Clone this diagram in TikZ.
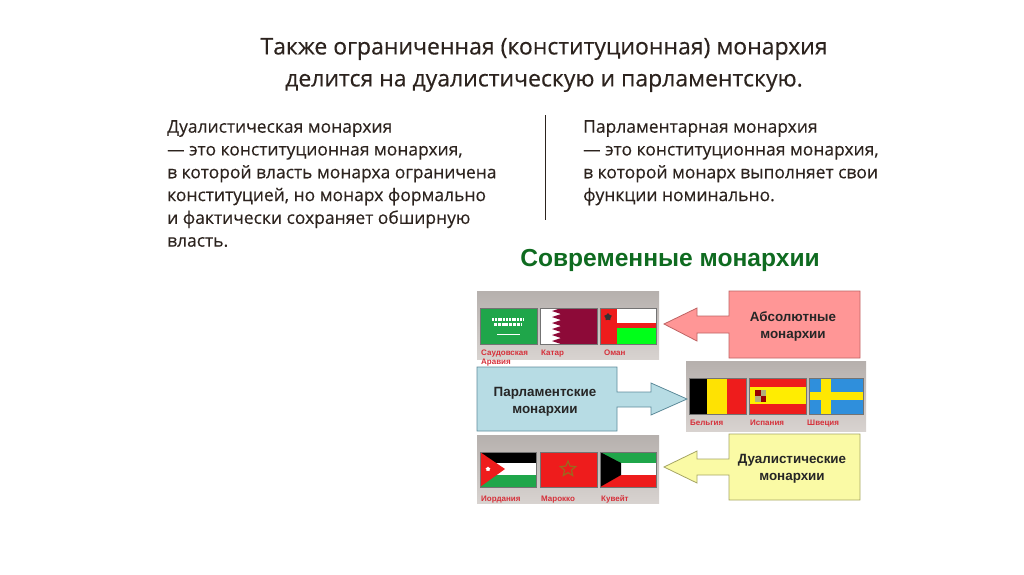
\documentclass[tikz,border=0pt]{standalone}
\usepackage{fontspec}
\setmainfont{Open Sans}
\newfontfamily\slidef[FakeBold=0.35]{Open Sans}
\newfontfamily\arialf{Liberation Sans}
\usetikzlibrary{shapes.geometric}
\definecolor{ink}{HTML}{2C231E}
\definecolor{panT}{HTML}{B6B0AD}
\definecolor{panB}{HTML}{D8D3D0}
\definecolor{redF}{HTML}{EE1C1C}
\definecolor{grnF}{HTML}{1FA64A}
\definecolor{qatF}{HTML}{8D0A38}
\definecolor{sweF}{HTML}{2F8FDC}
\definecolor{lblC}{HTML}{D6303A}
\definecolor{modC}{HTML}{0F6B20}
\definecolor{absC}{HTML}{FF9696}
\definecolor{absD}{HTML}{BE6464}
\definecolor{prlC}{HTML}{B7DCE4}
\definecolor{prlD}{HTML}{5F8C9B}
\definecolor{duaC}{HTML}{FAFAA5}
\definecolor{duaD}{HTML}{A5A564}
\definecolor{morD}{HTML}{9B691E}
\begin{document}
\begin{tikzpicture}[x=1pt,y=-1pt]
\tikzset{
  head/.style ={align=center, inner sep=0, text=ink, font=\slidef\fontsize{23}{32}\selectfont},
  body/.style ={align=left, anchor=north west, inner sep=0, text=ink, font=\slidef\fontsize{17.45}{22.8}\selectfont},
  panel/.style={top color=panT, bottom color=panB, draw=none},
  flag/.style ={draw=black!55, line width=0.5pt},
  lbl/.style  ={anchor=base west, inner sep=0, text=lblC, font=\arialf\bfseries\fontsize{8}{9}\selectfont},
  call/.style ={align=center, inner sep=0, text=black!85, font=\arialf\bfseries\fontsize{13.4}{16.5}\selectfont},
  arr/.style  ={line width=0.8pt, line join=miter}
}
\useasboundingbox (0,0) rectangle (1024,574);
\node (title)[head] at (544,65){Также ограниченная (конституционная) монархия\\делится на дуалистическую и парламентскую.};
\node (dual)[body] at (167,120){Дуалистическая монархия\\— это конституционная монархия,\\в которой власть монарха ограничена\\конституцией, но монарх формально\\и фактически сохраняет обширную\\власть.};
\node (parl)[body] at (583,120){Парламентарная монархия\\— это конституционная монархия,\\в которой монарх выполняет свои\\функции номинально.};
\coordinate (sepT) at (545,115);
\coordinate (sepB) at (545,220);
\draw[ink,line width=0.8pt](sepT)--(sepB);
\node (modern)[inner sep=0,text=modC,font=\arialf\bfseries\fontsize{24.6}{28}\selectfont] at (670,260){Современные монархии};
% panels
\fill[panel] (477,291) rectangle (659,359);
\fill[panel] (686,361) rectangle (866,431);
\fill[panel] (477,435) rectangle (659,503);
% absolute
\draw[arr,fill=absC,draw=absD]
  (729,291)--(860,291)--(860,358)--(729,358)--(729,333)--(697,333)--(697,341)--(664,324)--(697,308)--(697,316)--(729,316)--cycle;
\node (abs)[call] at (793,326.5){Абсолютные\\монархии};
% parliamentary
\draw[arr,fill=prlC,draw=prlD]
  (477,367)--(617,367)--(617,392)--(651,392)--(651,383)--(687,399)--(651,415)--(651,407)--(617,407)--(617,431)--(477,431)--cycle;
\node (prl)[call] at (545,402){Парламентские\\монархии};
% dualistic
\draw[arr,fill=duaC,draw=duaD]
  (729,434)--(860,434)--(860,500)--(729,500)--(729,475)--(697,475)--(697,483)--(664,467)--(697,451)--(697,459)--(729,459)--cycle;
\node (dua)[call] at (792,469){Дуалистические\\монархии};
% saudi
\fill[grnF] (480,308) rectangle (537,344);
\draw[white,line width=2.6pt,dash pattern=on 2pt off 0.8pt] (492,319.5)--(523,319.5);
\draw[white,line width=2.6pt,dash pattern=on 3pt off 0.8pt] (494,324.5)--(522,324.5);
\draw[white,line width=0.9pt] (497,334)--(520,334);
\draw[flag] (480,308) rectangle (537,344);
% qatar
\fill[white] (540,308) rectangle (597,344);
\fill[qatF] (597,308)--(561,308)--(552,311)--(561,314)--(552,317)--(561,320)--(552,323)--(561,326)--(552,329)--(561,332)--(552,335)--(561,338)--(552,341)--(561,344)--(597,344)--cycle;
\draw[flag] (540,308) rectangle (597,344);
% oman
\fill[white] (617,308) rectangle (656,323);
\fill[redF] (600,308) rectangle (617,344);
\fill[redF] (617,323) rectangle (656,328);
\fill[green!90!cyan] (617,328) rectangle (656,344);
\node (omanS)[star,fill=black!80,inner sep=0,minimum size=8pt] at (608,317){};
\draw[flag] (600,308) rectangle (656,344);
\node (lSau)[lbl] at (481,355){Саудовская};
\node (lAra)[lbl] at (481,364){Аравия};
\node (lQat)[lbl] at (541,355){Катар};
\node (lOma)[lbl] at (604,355){Оман};
% belgium
\fill[black] (689,378) rectangle (707,414);
\fill[yellow!85!orange] (707,378) rectangle (727,414);
\fill[redF] (727,378) rectangle (746,414);
\draw[flag] (689,378) rectangle (746,414);
% spain
\fill[redF] (749,378) rectangle (806,414);
\fill[yellow!95!orange] (749,387) rectangle (806,404);
\fill[red!60!black] (755,390) rectangle (766,402);
\fill[gray!70!yellow] (760.5,390) rectangle (766,396);
\fill[gray!70!yellow] (755,396) rectangle (760.5,402);
\draw[flag] (749,378) rectangle (806,414);
% sweden
\fill[sweF] (809,378) rectangle (863,414);
\fill[yellow!90!orange] (821,378) rectangle (831,414);
\fill[yellow!90!orange] (809,392) rectangle (863,400);
\draw[flag] (809,378) rectangle (863,414);
\node (lBel)[lbl] at (690,425){Бельгия};
\node (lEsp)[lbl] at (750,425){Испания};
\node (lSwe)[lbl] at (807,425){Швеция};
% jordan
\fill[black] (480,452) rectangle (536,463);
\fill[white] (480,463) rectangle (536,475);
\fill[grnF] (480,475) rectangle (536,487);
\fill[redF] (480,452)--(505,469)--(480,487)--cycle;
\node (jordS)[star,fill=white,inner sep=0,minimum size=5pt] at (488,469){};
\draw[flag] (480,452) rectangle (536,487);
% morocco
\fill[redF] (540,452) rectangle (597,487);
\node (morS)[star,star point ratio=2.2,draw=morD,line width=1.2pt,inner sep=0,minimum size=16pt] at (568,469){};
\draw[flag] (540,452) rectangle (597,487);
% kuwait
\fill[grnF] (600,452) rectangle (656,463);
\fill[white] (600,463) rectangle (656,475);
\fill[redF] (600,475) rectangle (656,487);
\fill[black] (600,452)--(621,463)--(621,475)--(600,487)--cycle;
\draw[flag] (600,452) rectangle (656,487);
\node (lIor)[lbl] at (481,501){Иордания};
\node (lMar)[lbl] at (541,501){Марокко};
\node (lKuw)[lbl] at (601,501){Кувейт};
\end{tikzpicture}
\end{document}
